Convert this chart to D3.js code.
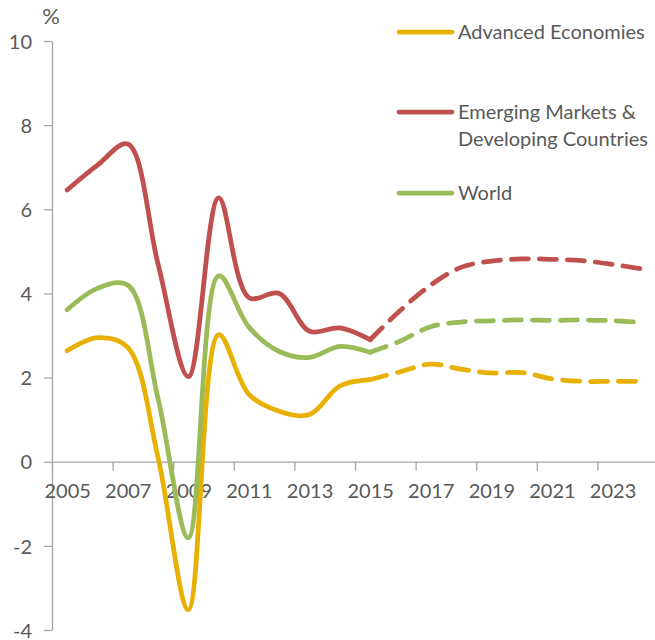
<!DOCTYPE html>
<html>
<head>
<meta charset="utf-8">
<script src="https://cdn.jsdelivr.net/npm/d3@7"></script>
<style>
  body { margin: 0; background: #fff; }
  svg { display: block; font-family: Lato, "Open Sans", sans-serif; }
  .axis path, .axis line { stroke: #a6a6a6; stroke-width: 1.3; }
  .axis text { fill: #595959; font-size: 20px; font-family: Lato, sans-serif; }
</style>
</head>
<body>
<svg></svg>
<script>
const actualYears = [2005, 2006, 2007, 2008, 2009, 2010, 2011, 2012, 2013, 2014, 2015];
const projYears = [2015, 2016, 2017, 2018, 2019, 2020, 2021, 2022, 2023, 2024];

const advActual = [2.64, 2.95, 2.72, 0.1, -3.52, 3.02, 1.6, 1.2, 1.12, 1.8, 1.95];
const emdeActual = [6.46, 7.05, 7.55, 4.7, 2.02, 6.27, 3.9, 4.0, 3.1, 3.18, 2.9];
const worldActual = [3.61, 4.12, 4.2, 1.5, -1.81, 4.42, 3.2, 2.62, 2.48, 2.74, 2.6];

const advProj = [1.95, 2.14, 2.32, 2.2, 2.11, 2.12, 1.97, 1.91, 1.91, 1.91];
const emdeProj = [2.9, 3.6, 4.2, 4.62, 4.77, 4.82, 4.81, 4.78, 4.69, 4.58];
const worldProj = [2.6, 2.87, 3.21, 3.32, 3.35, 3.37, 3.36, 3.37, 3.35, 3.31];

const yTicks = [-4, -2, 0, 2, 4, 6, 8, 10];
const xLabelYears = [2005, 2007, 2009, 2011, 2013, 2015, 2017, 2019, 2021, 2023];
const xTickBounds = [2004.5, 2006.5, 2008.5, 2010.5, 2012.5, 2014.5, 2016.5, 2018.5, 2020.5, 2022.5];

const seriesNames = ["Advanced Economies", "Emerging Markets &|Developing Countries", "World"];
const seriesColors = ["#e8b000", "#c0504d", "#9bbb59"];

const width = 655;
const height = 640;

const svg = d3.select("svg").attr("width", width).attr("height", height);

// Category-style x axis: each year is one slot, points sit in the middle
const x = d3.scaleLinear().domain([2004.5, 2024.5]).range([52, 658]);
const y = d3.scaleLinear().domain([-4, 10]).range([630, 41]);

// y axis (plain hyphen for negatives, like the original)
svg.append("g")
  .attr("class", "axis")
  .attr("transform", `translate(${x(2004.5)},0)`)
  .call(d3.axisLeft(y).tickValues(yTicks).tickSize(8).tickSizeOuter(0).tickPadding(12)
    .tickFormat((d) => String(d)))
  .call((g) => g.selectAll("text").attr("dy", "0.36em"));

// x axis line and tick marks at slot boundaries
svg.append("g")
  .attr("class", "axis")
  .attr("transform", `translate(0,${y(0)})`)
  .call(d3.axisBottom(x).tickValues(xTickBounds).tickSize(9).tickSizeOuter(0).tickFormat(""));

// x labels centred on the years
svg.append("g")
  .attr("class", "axis")
  .attr("transform", `translate(0,${y(0)})`)
  .call(d3.axisBottom(x).tickValues(xLabelYears).tickSize(0).tickPadding(22).tickFormat(d3.format("d")))
  .call((g) => g.select(".domain").remove());

// % unit label
svg.append("text")
  .attr("x", x(2004.5) - 1)
  .attr("y", 24)
  .attr("text-anchor", "middle")
  .attr("fill", "#595959")
  .style("font-size", "22px")
  .text("%");

const line = d3.line()
  .x((d) => x(d[0]))
  .y((d) => y(d[1]))
  .curve(d3.curveCatmullRom.alpha(0.5));

const actual = [advActual, emdeActual, worldActual];
const proj = [advProj, emdeProj, worldProj];

actual.forEach((vals, i) => {
  svg.append("path")
    .datum(actualYears.map((yr, j) => [yr, vals[j]]))
    .attr("d", line)
    .attr("fill", "none")
    .attr("stroke", seriesColors[i])
    .attr("stroke-width", 4.75)
    .attr("stroke-linecap", "round")
    .attr("stroke-linejoin", "round");
});

proj.forEach((vals, i) => {
  svg.append("path")
    .datum(projYears.map((yr, j) => [yr, vals[j]]))
    .attr("d", line)
    .attr("fill", "none")
    .attr("stroke", seriesColors[i])
    .attr("stroke-width", 4.75)
    .attr("stroke-linecap", "round")
    .attr("stroke-dasharray", "17,11");
});

// Legend
const legendY = [32, 112, 193];
const legend = svg.append("g");
seriesNames.forEach((name, i) => {
  legend.append("line")
    .attr("x1", 399).attr("x2", 452)
    .attr("y1", legendY[i]).attr("y2", legendY[i])
    .attr("stroke", seriesColors[i])
    .attr("stroke-width", 4.75)
    .attr("stroke-linecap", "round");
  name.split("|").forEach((part, k) => {
    legend.append("text")
      .attr("x", 458)
      .attr("y", legendY[i] + 7 + k * 27)
      .attr("fill", "#595959")
      .style("font-size", "20px")
      .text(part);
  });
});
</script>
</body>
</html>
